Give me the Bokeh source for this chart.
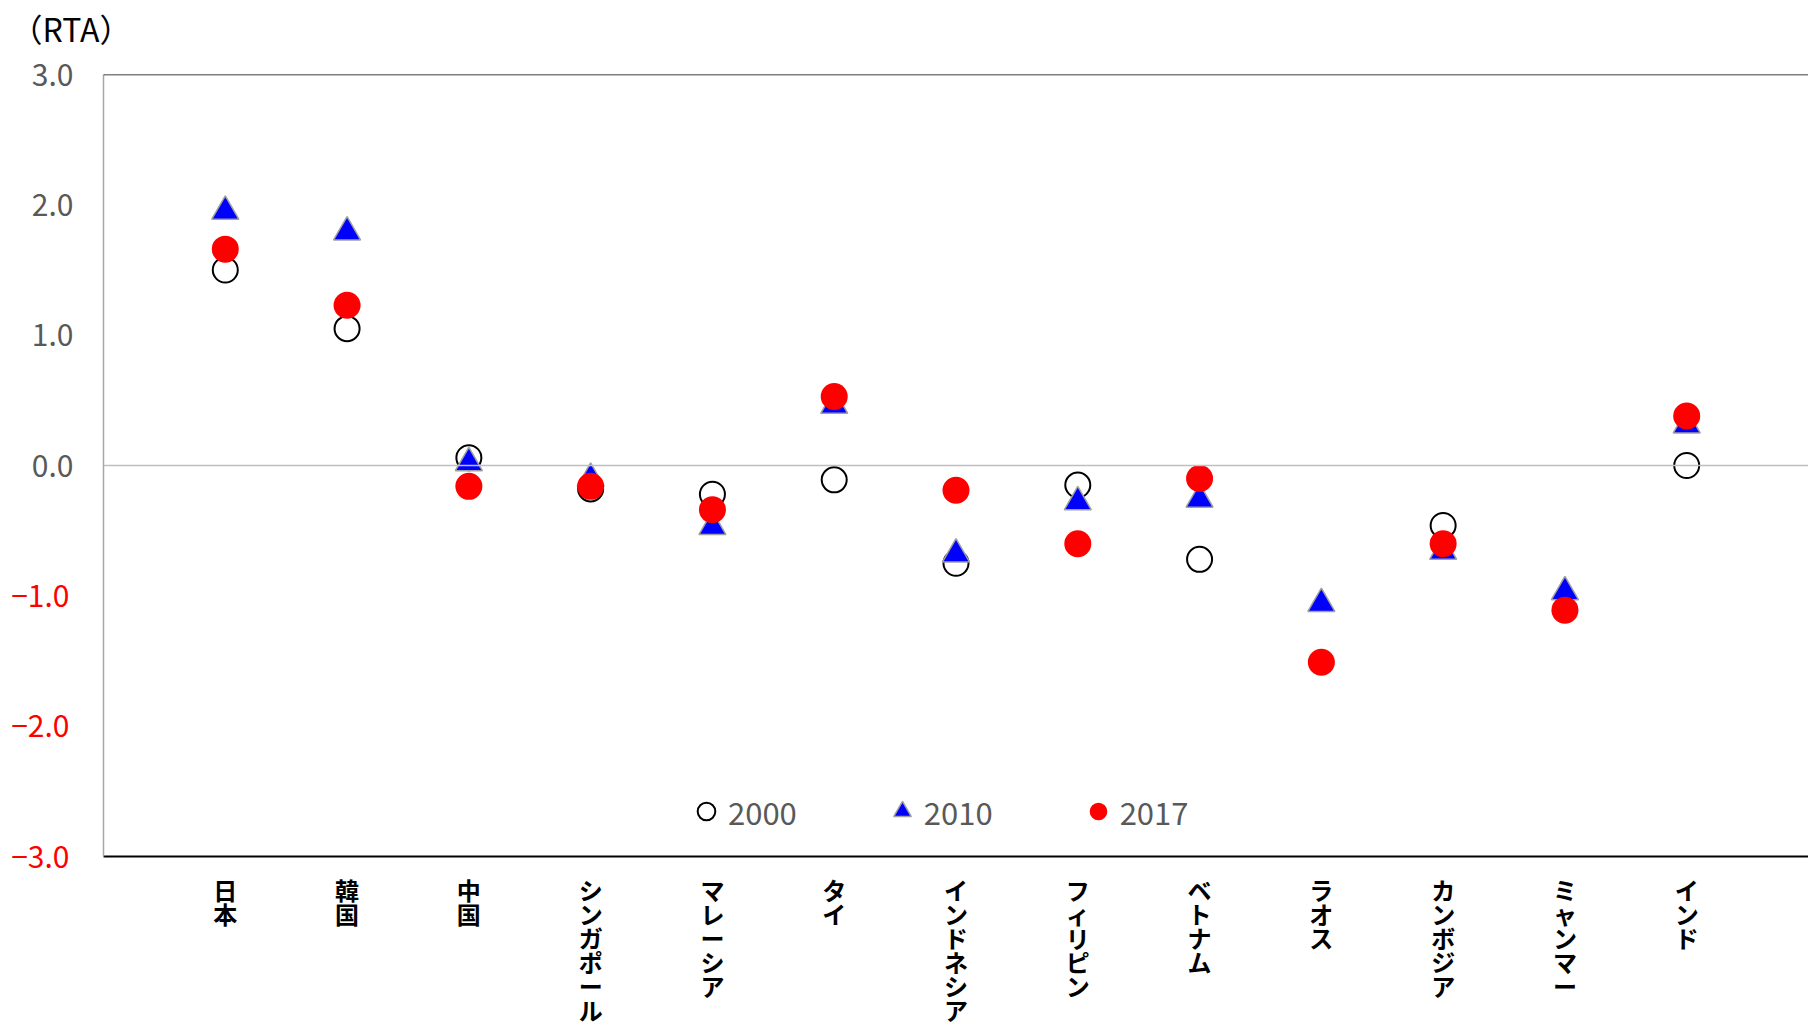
import numpy as np
from bokeh.plotting import figure
from bokeh.models import (Range1d, FixedTicker, NumeralTickFormatter, Span, LinearAxis, Title,
                          ColumnDataSource, Legend, LegendItem)
from bokeh.embed import file_html
from bokeh.resources import INLINE

nan = float("nan")

# ---- data ----
categories = ["日本", "韓国", "中国", "シンガポール", "マレーシア", "タイ", "インドネシア",
              "フィリピン", "ベトナム", "ラオス", "カンボジア", "ミャンマー", "インド"]
rta_2000 = [1.50, 1.05, 0.06, -0.18, -0.22, -0.11, -0.75, -0.15, -0.72, nan, -0.46, nan, 0.00]
rta_2010 = [1.95, 1.79, 0.02, -0.10, -0.47, 0.46, -0.68, -0.28, -0.26, -1.06, -0.66, -0.97, 0.31]
rta_2017 = [1.66, 1.23, -0.16, -0.16, -0.34, 0.53, -0.19, -0.60, -0.10, -1.51, -0.60, -1.11, 0.38]
series_labels = ["2000", "2010", "2017"]
pos_ticks = [0, 1, 2, 3]
neg_ticks = [-1, -2, -3]
neg_tick_labels = ["−1.0", "−2.0", "−3.0"]
y_title = "（RTA）"

Y_MIN, Y_MAX = -3, 3
X_START, X_END = 0, 14.0
FONT = "Noto Sans CJK JP"

xs = list(range(1, len(categories) + 1))
src = ColumnDataSource(dict(x=xs, y0=rta_2000, y1=rta_2010, y2=rta_2017))

p = figure(width=1808, height=1030,
           x_range=Range1d(X_START, X_END), y_range=Range1d(Y_MIN, Y_MAX),
           output_backend="svg", toolbar_location=None,
           min_border_left=103, min_border_right=0, min_border_top=74, min_border_bottom=174)
p.outline_line_color = None
p.background_fill_color = "white"
p.border_fill_color = "white"
p.xgrid.visible = False
p.ygrid.visible = False

# unit label at top-left (an empty second line lifts it toward the top edge)
p.title = Title(text=y_title + "\n", align="left", offset=-93, standoff=0,
                text_font=FONT, text_font_size="32px", text_font_style="normal",
                text_line_height=0.52, text_color="#000000")

# x axis: vertical stacked category names
xa = p.xaxis[0]
xa.ticker = FixedTicker(ticks=xs)
xa.major_label_overrides = {x: "\n".join(c) for x, c in zip(xs, categories)}
xa.axis_line_color = "#000000"
xa.axis_line_width = 2
xa.major_tick_line_color = None
xa.minor_tick_line_color = None
xa.major_tick_out = 0
xa.major_tick_in = 0
xa.major_label_standoff = 15
xa.major_label_text_font = FONT
xa.major_label_text_font_size = "24px"
xa.major_label_text_font_style = "bold"
xa.major_label_text_color = "#000000"
xa.major_label_text_line_height = 0.69

# y axis (non-negative ticks, gray)
ya = p.yaxis[0]
ya.ticker = FixedTicker(ticks=pos_ticks)
ya.formatter = NumeralTickFormatter(format="0.0")
ya.axis_line_color = "#a6a6a6"
ya.axis_line_width = 1.5
ya.major_tick_line_color = None
ya.minor_tick_line_color = None
ya.major_tick_out = 0
ya.major_tick_in = 0
ya.major_label_standoff = 30
ya.major_label_text_font = FONT
ya.major_label_text_font_size = "30px"
ya.major_label_text_color = "#595959"

# second left axis for the negative ticks (red labels), overlapping the first one's column
ya2 = LinearAxis(ticker=FixedTicker(ticks=neg_ticks),
                 major_label_overrides={t: s for t, s in zip(neg_ticks, neg_tick_labels)},
                 axis_line_color=None, major_tick_line_color=None, minor_tick_line_color=None,
                 major_tick_out=0, major_tick_in=0, major_label_standoff=-41,
                 major_label_text_font=FONT, major_label_text_font_size="30px",
                 major_label_text_color="#ff0000")
p.add_layout(ya2, "left")

# zero line and top border
p.add_layout(Span(location=0, dimension="width", line_color="#bfbfbf", line_width=1.5))
p.add_layout(Span(location=Y_MAX, dimension="width", line_color="#000000", line_width=1.5))

# series
r0 = p.scatter("x", "y0", source=src, marker="circle", size=25,
               fill_color="white", line_color="black", line_width=2)
r1 = p.scatter("x", "y1", source=src, marker="triangle", size=27,
               fill_color="#0000ff", line_color="#a0a0a0", line_width=1.5)
r2 = p.scatter("x", "y2", source=src, marker="circle", size=27,
               fill_color="#ff0000", line_color=None)

legend = Legend(items=[LegendItem(label=series_labels[0], renderers=[r0]),
                       LegendItem(label=series_labels[1], renderers=[r1]),
                       LegendItem(label=series_labels[2], renderers=[r2])],
                orientation="horizontal", location=(581, 17),
                glyph_width=44, glyph_height=56, label_standoff=0, spacing=83,
                padding=0, margin=0, border_line_color=None, background_fill_alpha=0,
                label_text_font=FONT, label_text_font_size="31px", label_text_color="#595959")
p.add_layout(legend, "center")

open("out.html", "w").write(file_html(p, INLINE))
